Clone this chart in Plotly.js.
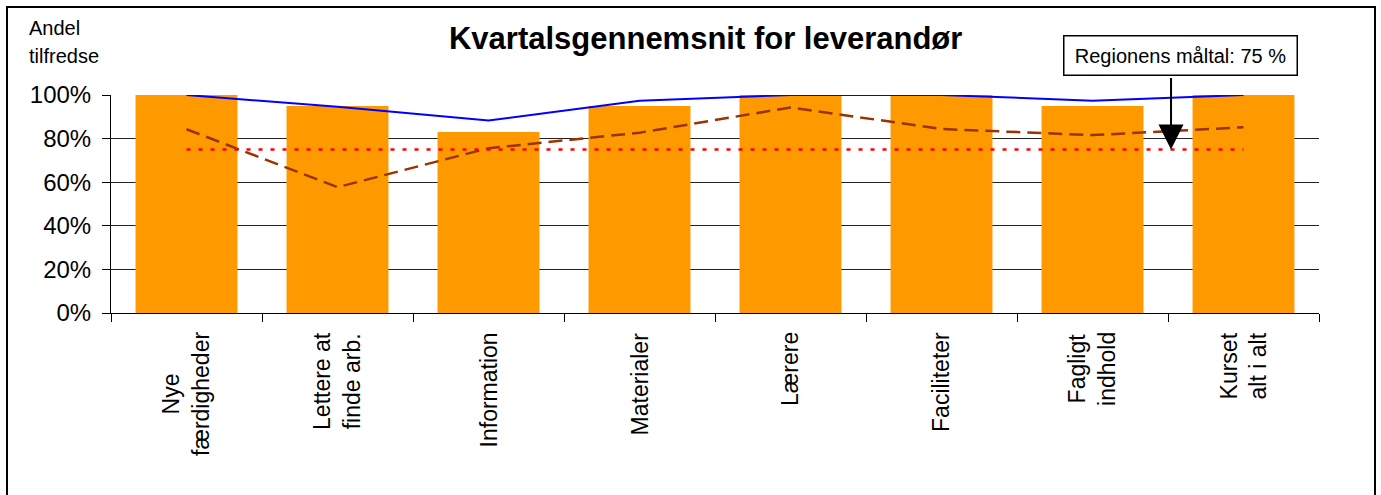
<!DOCTYPE html>
<html>
<head>
<meta charset="utf-8">
<script src="https://cdn.plot.ly/plotly-3.0.1.min.js"></script>
<style>
  html, body { margin: 0; padding: 0; background: #fff; }
  #wrap { position: relative; width: 1381px; height: 495px; overflow: hidden; }
  #chart { width: 1381px; height: 495px; }
  #frame { position: absolute; left: 6px; top: 6px; width: 1370px; height: 520px; border: 2px solid #000; pointer-events: none; box-sizing: border-box; }
</style>
</head>
<body>
<div id="wrap">
  <div id="chart"></div>
  <div id="frame"></div>
</div>
<script>
// Data
const categories = ["Nye færdigheder", "Lettere at finde arb.", "Information", "Materialer", "Lærere", "Faciliteter", "Fagligt indhold", "Kurset alt i alt"];
const categoryLabels = ["Nye<br>færdigheder", "Lettere at<br>finde arb.", "Information", "Materialer", "Lærere", "Faciliteter", "Fagligt<br>indhold", "Kurset<br>alt i alt"];
const barValues   = [1.00, 0.95, 0.83, 0.95, 1.00, 1.00, 0.95, 1.00];
const blueValues  = [1.00, 0.946, 0.883, 0.974, 1.00, 1.00, 0.974, 1.00];
const brownValues = [0.843, 0.577, 0.756, 0.827, 0.943, 0.844, 0.816, 0.852];
const targetValues = [0.75, 0.75, 0.75, 0.75, 0.75, 0.75, 0.75, 0.75];
const titleText = "Kvartalsgennemsnit for leverandør";
const yTitleLines = ["Andel", "tilfredse"];
const targetLabel = "Regionens måltal: 75 %";
const yTickVals = [0, 0.2, 0.4, 0.6, 0.8, 1.0];

const FONT = "Liberation Sans, Arial, sans-serif";

const traces = [
  {
    type: "bar", x: categories, y: barValues,
    marker: { color: "#FF9900", line: { width: 0 } },
    hoverinfo: "skip"
  },
  {
    type: "scatter", mode: "lines", x: categories, y: blueValues,
    line: { color: "#0000FF", width: 2 }, cliponaxis: false, hoverinfo: "skip"
  },
  {
    type: "scatter", mode: "lines", x: categories, y: brownValues,
    line: { color: "#993300", width: 2.5, dash: "14px,7px" }, cliponaxis: false, hoverinfo: "skip"
  },
  {
    type: "scatter", mode: "lines", x: categories, y: targetValues,
    line: { color: "#FF0000", width: 2.5, dash: "4px,8px" }, cliponaxis: false, hoverinfo: "skip"
  }
];

const annotations = [];
categories.forEach((c, i) => {
  annotations.push({
    x: c, xref: "x", y: -0.08, yref: "paper",
    text: categoryLabels[i], showarrow: false, textangle: -90,
    xanchor: "center", yanchor: "top", align: "center",
    font: { family: FONT, size: 23, color: "#000" }
  });
});
annotations.push({
  x: -0.0695, xref: "paper", y: 1.307, yref: "paper", text: yTitleLines[0],
  showarrow: false, xanchor: "left", yanchor: "middle",
  font: { family: FONT, size: 20, color: "#000" }
});
annotations.push({
  x: -0.0695, xref: "paper", y: 1.179, yref: "paper", text: yTitleLines[1],
  showarrow: false, xanchor: "left", yanchor: "middle",
  font: { family: FONT, size: 20, color: "#000" }
});
// target label box
annotations.push({
  x: 0.8854, xref: "paper", y: 1.183, yref: "paper", text: targetLabel,
  showarrow: false, xanchor: "center", yanchor: "middle",
  width: 228, height: 34, borderpad: 2,
  bordercolor: "#000", borderwidth: 1.5, bgcolor: "#fff",
  font: { family: FONT, size: 20, color: "#000" }
});
// arrow to target line
annotations.push({
  x: 6.52, xref: "x", y: targetValues[0], yref: "y", text: "",
  showarrow: true, ax: 0, ay: -73, axref: "pixel", ayref: "pixel",
  arrowhead: 2, arrowsize: 2.5, arrowwidth: 2, arrowcolor: "#000", standoff: 0
});

const layout = {
  width: 1381, height: 495,
  margin: { l: 111, r: 62, t: 95, b: 182, pad: 0 },
  paper_bgcolor: "#fff", plot_bgcolor: "#fff",
  showlegend: false,
  bargap: 0.325,
  title: {
    text: "<b>" + titleText + "</b>",
    x: 0.511, xref: "container", xanchor: "center",
    y: 0.923, yref: "container", yanchor: "middle",
    font: { family: FONT, size: 31, color: "#000" }
  },
  xaxis: {
    type: "category", categoryorder: "array", categoryarray: categories,
    showticklabels: false, tickson: "boundaries",
    ticks: "outside", ticklen: 8, tickcolor: "#000", tickwidth: 1,
    showline: true, linecolor: "#000", linewidth: 1,
    showgrid: false, zeroline: false, fixedrange: true
  },
  yaxis: {
    range: [0, 1], tickvals: yTickVals, tickformat: ".0%",
    ticks: "outside", ticklen: 8, tickcolor: "#000", tickwidth: 1,
    ticklabelstandoff: 6,
    showline: true, linecolor: "#000", linewidth: 1,
    showgrid: true, gridcolor: "#222", gridwidth: 1,
    zeroline: false, fixedrange: true,
    tickfont: { family: FONT, size: 24, color: "#000" }
  },
  annotations: annotations
};

Plotly.newPlot("chart", traces, layout, { staticPlot: true, displayModeBar: false });
</script>
</body>
</html>
